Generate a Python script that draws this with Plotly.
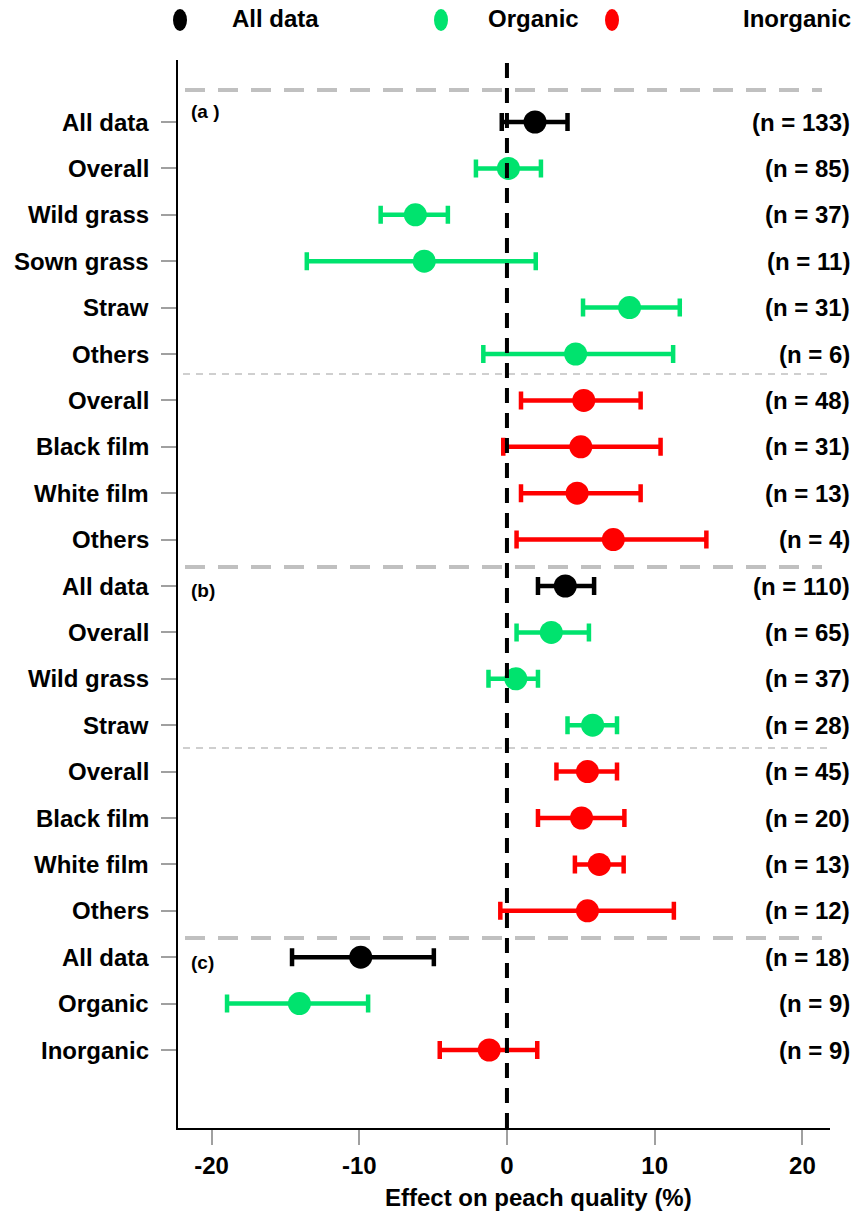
import plotly.graph_objects as go

# Forest plot: effect of mulching on peach quality
labels = ["All data", "Overall", "Wild grass", "Sown grass", "Straw", "Others",
          "Overall", "Black film", "White film", "Others",
          "All data", "Overall", "Wild grass", "Straw",
          "Overall", "Black film", "White film", "Others",
          "All data", "Organic", "Inorganic"]
groups = ["all", "org", "org", "org", "org", "org",
          "inorg", "inorg", "inorg", "inorg",
          "all", "org", "org", "org",
          "inorg", "inorg", "inorg", "inorg",
          "all", "org", "inorg"]
effect = [1.9, 0.1, -6.2, -5.6, 8.3, 4.65,
          5.2, 5.0, 4.75, 7.2,
          3.95, 3.0, 0.6, 5.8,
          5.45, 5.05, 6.25, 5.45,
          -9.9, -14.05, -1.2]
lower = [-0.35, -2.1, -8.55, -13.55, 5.15, -1.6,
         0.95, -0.25, 0.95, 0.65,
         2.1, 0.65, -1.25, 4.1,
         3.35, 2.1, 4.6, -0.45,
         -14.55, -18.95, -4.55]
upper = [4.1, 2.3, -4.0, 1.95, 11.7, 11.25,
         9.05, 10.4, 9.05, 13.5,
         5.9, 5.55, 2.1, 7.45,
         7.45, 7.95, 7.9, 11.3,
         -4.95, -9.4, 2.05]
n_obs = [133, 85, 37, 11, 31, 6,
         48, 31, 13, 4,
         110, 65, 37, 28,
         45, 20, 13, 12,
         18, 9, 9]
panels = ["(a )", "(b)", "(c)"]
legend_names = {"all": "All data", "org": "Organic", "inorg": "Inorganic"}
x_ticks = [-20, -10, 0, 10, 20]

colors = {"all": "#000000", "org": "#00E36E", "inorg": "#FF0000"}

W, H = 868, 1213
L, R, T, B = 178, 38, 60, 85
PW, PH = W - L - R, H - T - B


def px_x(px):
    return (px - L) / PW


def px_y(py):
    return (H - B - py) / PH


ROW0, ROWSTEP = 122, 46.4


def row_of(py):
    return (py - ROW0) / ROWSTEP


rows = list(range(len(labels)))
fig = go.Figure()

for g in ["all", "org", "inorg"]:
    idx = [i for i in rows if groups[i] == g]
    fig.add_trace(go.Scatter(
        x=[effect[i] for i in idx],
        y=[rows[i] for i in idx],
        mode="markers",
        marker=dict(color=colors[g], size=23, line=dict(width=0)),
        error_x=dict(type="data", symmetric=False,
                     array=[upper[i] - effect[i] for i in idx],
                     arrayminus=[effect[i] - lower[i] for i in idx],
                     color=colors[g], thickness=4.5, width=9),
        name=legend_names[g], showlegend=False, cliponaxis=False,
    ))

shapes = []
# zero reference line
shapes.append(dict(type="line", xref="x", yref="paper", x0=0, x1=0, y0=0, y1=1,
                   line=dict(color="black", width=4, dash="15px,10px"), layer="above"))
# heavy separators between (a), (b), (c)
for py in [90, 567, 938]:
    r = row_of(py)
    shapes.append(dict(type="line", xref="paper", yref="y", x0=px_x(185), x1=px_x(822),
                       y0=r, y1=r, line=dict(color="#C0C0C0", width=4, dash="20px,13px"),
                       layer="below"))
# light separators between organic and inorganic blocks
for py in [374, 748]:
    r = row_of(py)
    shapes.append(dict(type="line", xref="paper", yref="y", x0=px_x(183), x1=px_x(830),
                       y0=r, y1=r, line=dict(color="#C0C0C0", width=1.5, dash="7px,6px"),
                       layer="below"))

annotations = []
font_b = dict(family="Liberation Sans", size=24, color="black", weight="bold")

for i in rows:
    annotations.append(dict(xref="paper", yref="y", x=px_x(151), y=rows[i],
                            text=labels[i], showarrow=False, xanchor="right",
                            yanchor="middle", font=font_b))
    annotations.append(dict(xref="paper", yref="y", x=px_x(852), y=rows[i],
                            text=f"(n = {n_obs[i]})", showarrow=False, xanchor="right",
                            yanchor="middle", font=font_b))

for text, py in zip(panels, [111, 590, 962]):
    annotations.append(dict(xref="paper", yref="y", x=px_x(189), y=row_of(py),
                            text=text, showarrow=False, xanchor="left", yanchor="middle",
                            font=dict(family="Liberation Sans", size=19, color="black",
                                      weight="bold")))

# legend row along the top
for g, mx, tx in [("all", 180, 230), ("org", 441, 486), ("inorg", 612, 741)]:
    shapes.append(dict(type="circle", xref="paper", yref="paper",
                       xsizemode="pixel", ysizemode="pixel",
                       xanchor=px_x(mx), yanchor=px_y(20),
                       x0=-7, x1=7, y0=-11, y1=11,
                       fillcolor=colors[g], line=dict(width=0)))
    annotations.append(dict(xref="paper", yref="paper", x=px_x(tx), y=px_y(19),
                            text=legend_names[g], showarrow=False, xanchor="left",
                            yanchor="middle", font=font_b))

annotations.append(dict(xref="paper", yref="paper", x=px_x(538), y=px_y(1197),
                        text="Effect on peach quality (%)", showarrow=False,
                        xanchor="center", yanchor="middle", font=font_b))

fig.update_layout(
    width=W, height=H,
    margin=dict(l=L, r=R, t=T, b=B),
    paper_bgcolor="white", plot_bgcolor="white",
    shapes=shapes, annotations=annotations,
    showlegend=False,
    xaxis=dict(range=[-22.27, 21.87], tickvals=x_ticks, ticktext=[str(v) for v in x_ticks],
               showgrid=False, zeroline=False, showline=True, linecolor="black",
               linewidth=2, ticks="outside", ticklen=15, tickwidth=1.5,
               tickcolor="#A0A0A0", tickfont=font_b),
    yaxis=dict(range=[row_of(H - B), row_of(T)], tickvals=rows, ticktext=[""] * len(rows),
               showgrid=False, zeroline=False, showline=True, linecolor="black",
               linewidth=2, ticks="outside", ticklen=15, tickwidth=1.5,
               tickcolor="#A0A0A0"),
)

fig.write_html("out.html")
